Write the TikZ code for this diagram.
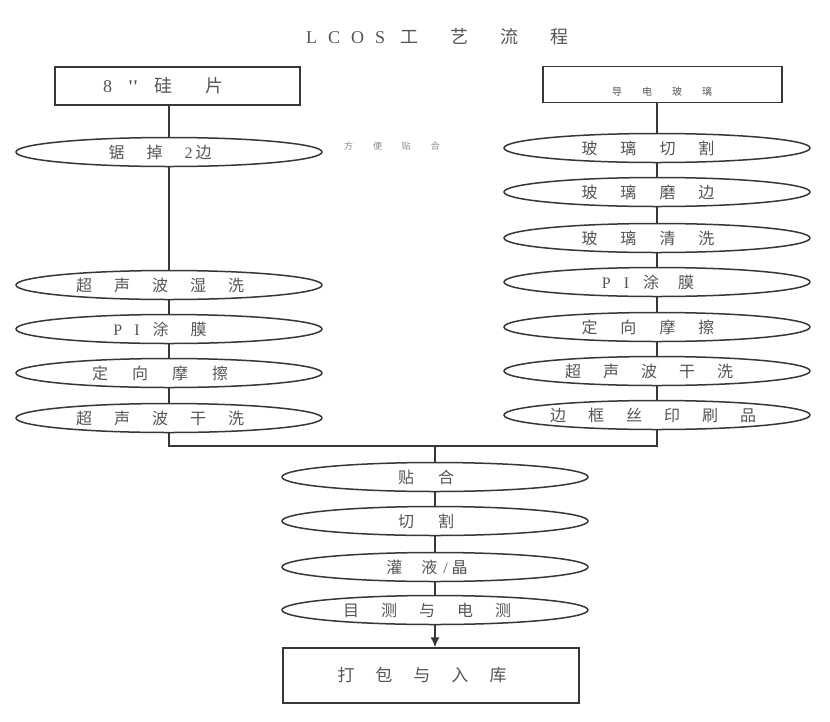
\documentclass[tikz,border=0pt]{standalone}
\usepackage{fontspec}
\newfontfamily\cjk{Noto Sans CJK SC}
\newfontfamily\lat{Liberation Serif}
\usetikzlibrary{shapes.geometric,arrows.meta}
\definecolor{ink}{RGB}{55,55,55}
\definecolor{txt}{RGB}{85,85,85}
\definecolor{faint}{RGB}{140,140,140}
\newcommand\gp[1]{\hspace{#1pt}}
\newcommand\tr[1]{\hspace{#1pt}\mbox{}}
\begin{document}
\begin{tikzpicture}[x=1pt,y=-1pt,
  proc/.style={ellipse, draw=ink, line width=1.5pt, minimum width=306pt, minimum height=29pt, inner sep=0pt, text=txt, font=\cjk\fontsize{16}{16}\selectfont},
  boxnode/.style={rectangle, draw=ink, line width=1.5pt, inner sep=0pt, text=txt},
  conn/.style={draw=ink, line width=1.5pt},
  lbl/.style={inner sep=0pt, text=txt}]
\fill[white] (0,0) rectangle (830,721);
\useasboundingbox (0,0) rectangle (830,721);

% title
\node[lbl, anchor=west, font=\cjk\fontsize{18}{18}\selectfont] (title) at (306,37)
  {{\lat L\gp{11}C\gp{11}O\gp{11}S}\gp{15}工\gp{32}艺\gp{32}流\gp{32}程};

% source boxes
\node[boxnode, minimum width=245pt, minimum height=38pt, font=\cjk\fontsize{18}{18}\selectfont] (lbox) at (177.5,86)
  {{\lat 8}\gp{16}{\lat\bfseries ''}\gp{16}硅\gp{34}片\tr{28}};
\node[boxnode, minimum width=239pt, minimum height=36pt] (rbox) at (662.5,84.5) {};
\node[lbl, font=\cjk\fontsize{10}{10}\selectfont] (rboxlbl) at (662,92) {导\gp{20}电\gp{20}玻\gp{20}璃};

% note
\node[lbl, text=faint, font=\cjk\fontsize{9}{9}\selectfont] (note) at (392,146) {方\gp{20}便\gp{20}贴\gp{20}合};

% left column
\node[proc] (le1) at (169,152) {锯\gp{22}掉\gp{22}{\lat 2}\gp{3}边\tr{18}};
\node[proc] (le2) at (169,285) {超\gp{22}声\gp{22}波\gp{22}湿\gp{22}洗\tr{18}};
\node[proc] (le3) at (169,329) {{\lat P}\gp{12}{\lat I}\gp{13}涂\gp{22}膜\tr{18}};
\node[proc] (le4) at (169,373) {定\gp{24}向\gp{24}摩\gp{24}擦\tr{18}};
\node[proc] (le5) at (169,418) {超\gp{22}声\gp{22}波\gp{22}干\gp{22}洗\tr{18}};

% right column
\node[proc] (re1) at (657,148) {玻\gp{23}璃\gp{23}切\gp{23}割\tr{18}};
\node[proc] (re2) at (657,192) {玻\gp{23}璃\gp{23}磨\gp{23}边\tr{18}};
\node[proc] (re3) at (657,238) {玻\gp{23}璃\gp{23}清\gp{23}洗\tr{18}};
\node[proc] (re4) at (657,282) {{\lat P}\gp{13}{\lat I}\gp{14}涂\gp{19}膜\tr{18}};
\node[proc] (re5) at (657,327) {定\gp{23}向\gp{23}摩\gp{23}擦\tr{18}};
\node[proc] (re6) at (657,371) {超\gp{22}声\gp{22}波\gp{22}干\gp{22}洗\tr{16}};
\node[proc] (re7) at (657,415) {边\gp{22}框\gp{22}丝\gp{22}印\gp{22}刷\gp{22}品\tr{8}};

% center column
\node[proc] (ce1) at (435,477) {贴\gp{24}合\tr{18}};
\node[proc] (ce2) at (435,521) {切\gp{24}割\tr{18}};
\node[proc] (ce3) at (435,567) {灌\gp{19}液\gp{6}{\lat /}\gp{4}晶\tr{16}};
\node[proc] (ce4) at (435,610) {目\gp{22}测\gp{22}与\gp{22}电\gp{22}测\tr{16}};
\node[boxnode, minimum width=296pt, minimum height=55pt, font=\cjk\fontsize{17}{17}\selectfont] (obox) at (431,675.5)
  {打\gp{21}包\gp{21}与\gp{21}入\gp{21}库\tr{18}};

% junction points
\coordinate (jl) at (169,446);
\coordinate (jr) at (657,446);
\coordinate (jc) at (435,446);

% connectors
\draw[conn] (le1.north |- lbox.south) -- (le1.north);
\draw[conn] (le1) -- (le2);
\draw[conn] (le2) -- (le3);
\draw[conn] (le3) -- (le4);
\draw[conn] (le4) -- (le5);
\draw[conn] (re1.north |- rbox.south) -- (re1.north);
\draw[conn] (re1) -- (re2);
\draw[conn] (re2) -- (re3);
\draw[conn] (re3) -- (re4);
\draw[conn] (re4) -- (re5);
\draw[conn] (re5) -- (re6);
\draw[conn] (re6) -- (re7);
\draw[conn] (le5.south) -- (jl) -- (jr) -- (re7.south);
\draw[conn] (jc) -- (ce1.north);
\draw[conn] (ce1) -- (ce2);
\draw[conn] (ce2) -- (ce3);
\draw[conn] (ce3) -- (ce4);
\draw[conn, -{Latex[length=10pt,width=9pt]}] (ce4.south) -- (ce4.south |- obox.north);
\end{tikzpicture}
\end{document}
